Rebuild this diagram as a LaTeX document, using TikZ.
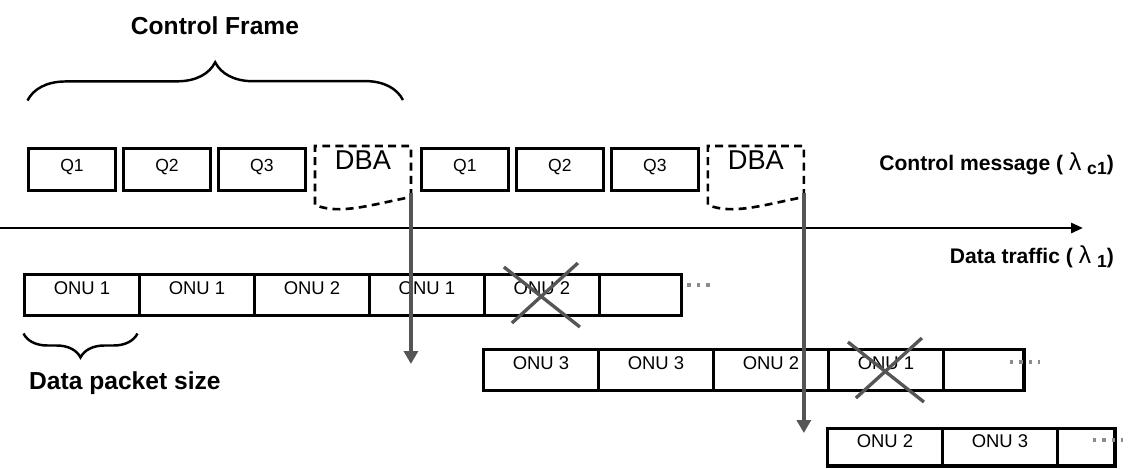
\documentclass[tikz,border=0pt]{standalone}
\usepackage{fontspec}
\setmainfont{Liberation Sans}
\usetikzlibrary{arrows.meta,positioning,calc,decorations.pathreplacing}
\definecolor{dropgray}{RGB}{85,85,85}
\definecolor{dotgray}{RGB}{140,140,140}

\begin{document}
\begin{tikzpicture}[
    x=0.02cm, y=-0.02cm,
    qbox/.style={draw, line width=2pt, inner sep=0pt, outer sep=0pt, minimum width=1.74cm, text height=0.45cm, text depth=0.39cm, font=\fontsize{10}{12}\selectfont},
    dbabox/.style={inner sep=0pt, outer sep=0pt, minimum width=1.92cm, text height=0.46cm, text depth=0.48cm, font=\fontsize{15.5}{18}\selectfont},
    dbaline/.style={line width=1.5pt, dash pattern=on 4.5pt off 3pt},
    onu/.style={draw, line width=2pt, inner sep=0pt, outer sep=0pt, minimum width=2.3cm, text height=0.39cm, text depth=0.43cm, font=\fontsize{10.5}{12}\selectfont},
    timeline/.style={-{Triangle[length=2.4mm,width=2mm]}, line width=1.6pt},
    drop/.style={-{Triangle[length=2.6mm,width=2.8mm]}, line width=2.3pt, draw=dropgray, fill=dropgray},
    cross/.style={line width=1.9pt, draw=dropgray},
    trail/.style={line width=1.8pt, draw=dotgray, dash pattern=on 1.8pt off 3.6pt},
    brace/.style={decorate, decoration={brace, amplitude=#1}, line width=1.4pt},
    heading/.style={font=\fontsize{14}{16}\selectfont\bfseries},
    side/.style={font=\fontsize{12}{14}\selectfont\bfseries}
]
\useasboundingbox (0,0) rectangle (1133,468);

% control messages
\node[qbox] (q1a) at (72,169.5) {Q1};
\node[qbox, right=0.16cm of q1a] (q2a) {Q2};
\node[qbox, right=0.16cm of q2a] (q3a) {Q3};
\node[dbabox, right=0.19cm of q3a] (dbaa) {DBA};
\node[qbox, right=0.21cm of dbaa] (q1b) {Q1};
\node[qbox, right=0.16cm of q1b] (q2b) {Q2};
\node[qbox, right=0.16cm of q2b] (q3b) {Q3};
\node[dbabox, right=0.19cm of q3b] (dbab) {DBA};

\foreach \d in {dbaa,dbab}
  \draw[dbaline] ($(\d.south east)+(0,4)$) -- (\d.north east) -- (\d.north west) -- ($(\d.south west)+(0,12)$)
    .. controls ($(\d.south west)+(25,22)$) and ($(\d.south west)+(55,12)$) .. ($(\d.south east)+(0,4)$);

\draw[brace=0.76cm] ($(q1a.north west)+(-1,-48)$) -- ($(dbaa.north east)+(-8,-46)$);
\node[heading, anchor=base] (cf) at (215,34) {Control Frame};

% time axis
\coordinate (t0) at (0,228);
\coordinate (t1) at (1083,228);
\draw[timeline] (t0) -- (t1);

\node[side, anchor=base east] (cm) at (1120,170) {Control message ( {\mdseries\fontsize{14}{16}\selectfont λ} \raisebox{-2.8pt}{\fontsize{10}{12}\selectfont c1})};
\node[side, anchor=base east] (dt) at (1120,263) {Data traffic ( {\mdseries\fontsize{14}{16}\selectfont λ} \raisebox{-2.8pt}{\fontsize{10}{12}\selectfont 1})};

% data rows
\node[onu] (r1a) at (82,295) {ONU 1};
\node[onu, right=0pt of r1a] (r1b) {ONU 1};
\node[onu, right=0pt of r1b] (r1c) {ONU 2};
\node[onu, right=0pt of r1c] (r1d) {ONU 1};
\node[onu, right=0pt of r1d] (r1e) {ONU 2};
\node[onu, right=0pt of r1e, minimum width=1.64cm] (r1f) {};

\node[onu] (r2a) at (541,370) {ONU 3};
\node[onu, right=0pt of r2a] (r2b) {ONU 3};
\node[onu, right=0pt of r2b] (r2c) {ONU 2};
\node[onu, right=0pt of r2c] (r2d) {ONU 1};
\node[onu, right=0pt of r2d, minimum width=1.61cm] (r2e) {};

\node[onu, text depth=0.36cm] (r3a) at (885,447) {ONU 2};
\node[onu, text depth=0.36cm, right=0pt of r3a] (r3b) {ONU 3};
\node[onu, text depth=0.36cm, right=0pt of r3b, minimum width=1.15cm] (r3c) {};

\draw[trail] ($(r1f.east)+(6,-10)$) -- ($(r1f.east)+(34,-10)$);
\draw[trail] ($(r2e.east)+(-14,-8)$) -- ($(r2e.east)+(16,-8)$);
\draw[trail] ($(r3c.east)+(-22,-7)$) -- ($(r3c.east)+(8,-7)$);

\draw[brace=0.48cm] ($(r1a.south east)+(-2,18)$) -- ($(r1a.south west)+(-1,18)$);
\node[heading, anchor=base west] (dps) at (23,389) {Data packet size};

% lost packets
\foreach \b in {r1e,r2d} {
  \draw[cross] ($(\b.center)+(-38,-28)$) -- ($(\b.center)+(38,32)$);
  \draw[cross] ($(\b.center)+(36,-32)$) -- ($(\b.center)+(-30,28)$);
}

% grants
\coordinate (enda) at ($(dbaa.south east)+(0,171)$);
\coordinate (endb) at ($(dbab.south east)+(0,240)$);
\draw[drop] (dbaa.south east) -- (enda);
\draw[drop] (dbab.south east) -- (endb);
\end{tikzpicture}
\end{document}
